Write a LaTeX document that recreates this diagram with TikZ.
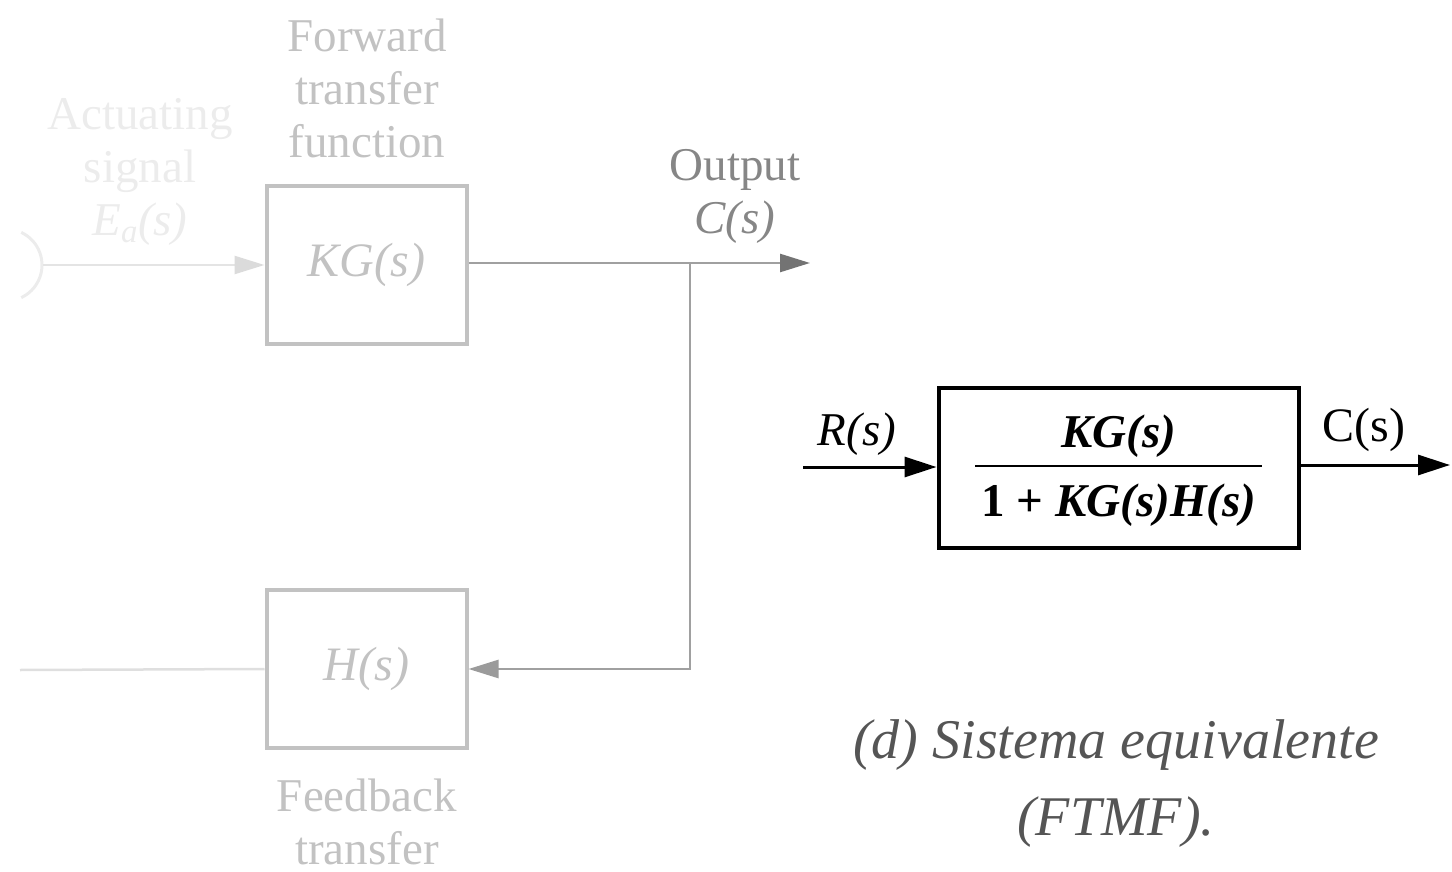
\documentclass[tikz,border=0pt]{standalone}
\usepackage{fontspec}
\setmainfont{Liberation Serif}
\usetikzlibrary{arrows.meta}
\definecolor{faint}{HTML}{ECECEC}
\definecolor{pale}{HTML}{C2C2C2}
\definecolor{midgray}{HTML}{A0A0A0}
\definecolor{outtxt}{HTML}{868686}
\definecolor{captxt}{HTML}{555555}
\tikzset{
  lbl/.style={align=center, font=\fontsize{47}{53}\selectfont},
  paleblock/.style={draw=pale, line width=4pt, minimum width=200pt, minimum height=158pt, text=pale, font=\fontsize{48}{50}\selectfont\itshape},
  mainblock/.style={draw=black, line width=4pt, minimum width=360pt, minimum height=160pt},
  sig/.style={line width=2.5pt},
  rlbl/.style={font=\fontsize{48}{50}\selectfont},
}
\begin{document}
\begin{tikzpicture}[x=1pt,y=-1pt]
\useasboundingbox (0,0) rectangle (1452,872);
% ---- faded left diagram ----
\coordinate (sumc) at (6,265);
\draw[draw=faint, line width=3pt] (sumc) ++(-65:36) arc[start angle=-65, end angle=65, radius=36];
\coordinate (sum) at (43,265);
\node[paleblock] (kg) at (366.5,265) {KG(s)};
\node[paleblock] (h) at (366.5,669) {H(s)};
\node[lbl, text=pale] (fwd) at (367,88) {Forward\\transfer\\function};
\node[lbl, text=faint] (act) at (140,172) {Actuating\\signal\\\textit{E\textsubscript{a}(s)}};
\node[lbl, text=outtxt] (outl) at (735,196) {Output\\\textit{C(s)}};
\node[lbl, text=pale] (fb) at (367,822) {Feedback\\transfer};
\coordinate (junc) at (690,263);
\coordinate (outend) at (810,263);
\coordinate (fbcorner) at (690,669);
\coordinate (hout) at (20,670);
\draw[sig, draw=faint!80!pale, -{Triangle[length=30pt,width=18pt,color=faint!60!pale]}] (sum) -- (kg.west);
\draw[sig, draw=midgray, -{Triangle[length=30pt,width=18pt,color=black!55]}] (kg.east |- junc) -- (outend);
\draw[sig, draw=midgray, -{Triangle[length=30pt,width=18pt,color=pale!80!black]}] (junc) -- (fbcorner) -- (h.east);
\draw[sig, draw=faint!70!pale] (h.west) -- (hout);
% ---- equivalent system ----
\node[mainblock] (eq) at (1118.5,468) {};
\node[rlbl, font=\fontsize{47}{50}\selectfont\itshape\bfseries] (num) at (1119,436) {KG(s)};
\node[rlbl, font=\fontsize{47}{50}\selectfont\itshape\bfseries] (den) at (1119,505) {\upshape 1 + \itshape KG(s)H(s)};
\draw[line width=2.5pt] (975,466) -- (1262,466);
\coordinate (rin) at (803,467);
\coordinate (cout) at (1450,465);
\draw[sig, line width=3pt, -{Triangle[length=32pt,width=20pt]}] (rin) -- (eq.west |- rin);
\draw[sig, line width=3pt, -{Triangle[length=32pt,width=20pt]}] (eq.east |- cout) -- (cout);
\node[rlbl, font=\fontsize{47}{50}\selectfont\itshape] (rlab) at (857,434) {R(s)};
\node[rlbl] (clab) at (1364,430) {C(s)};
\node[align=center, text=captxt, font=\fontsize{56}{77}\selectfont\itshape] (cap) at (1116,784) {(d) Sistema equivalente\\(FTMF).};
\end{tikzpicture}
\end{document}
